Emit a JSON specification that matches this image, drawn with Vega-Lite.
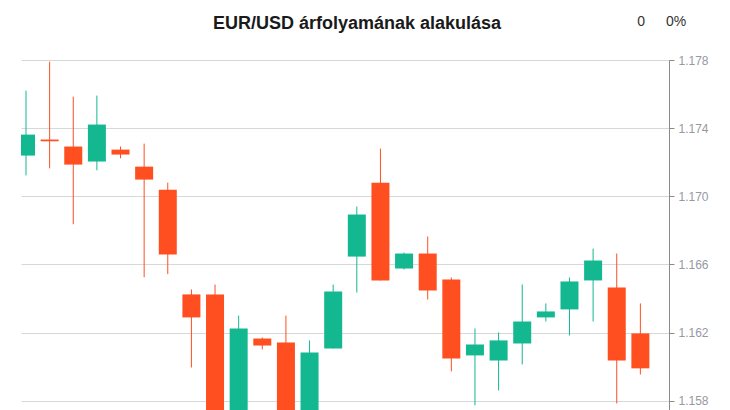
{
  "$schema": "https://vega.github.io/schema/vega-lite/v6.json",
  "autosize": {"type": "none"},
  "padding": {"left": 21, "top": 60, "right": 61, "bottom": 0},
  "width": 648,
  "height": 477,
  "background": "white",
  "title": {
    "text": "EUR/USD árfolyamának alakulása",
    "anchor": "middle",
    "frame": "group",
    "dx": 12,
    "offset": -32,
    "baseline": "alphabetic",
    "font": "Liberation Sans",
    "fontSize": 18,
    "fontWeight": "bold",
    "color": "#1a1a1a"
  },
  "config": {
    "view": {"stroke": null},
    "font": "Liberation Sans"
  },
  "datasets": {
    "candles": [
      {"i": 0, "open": 1.17239, "high": 1.1762, "low": 1.17123, "close": 1.17362},
      {"i": 1, "open": 1.17333, "high": 1.1779, "low": 1.17164, "close": 1.17323},
      {"i": 2, "open": 1.17292, "high": 1.17585, "low": 1.16836, "close": 1.17186},
      {"i": 3, "open": 1.17204, "high": 1.17591, "low": 1.17153, "close": 1.17421},
      {"i": 4, "open": 1.17274, "high": 1.17292, "low": 1.17223, "close": 1.17245},
      {"i": 5, "open": 1.17174, "high": 1.17309, "low": 1.16525, "close": 1.17098},
      {"i": 6, "open": 1.17039, "high": 1.1708, "low": 1.16543, "close": 1.16658},
      {"i": 7, "open": 1.16424, "high": 1.16453, "low": 1.15995, "close": 1.16289},
      {"i": 8, "open": 1.16424, "high": 1.16482, "low": 1.1553, "close": 1.1557},
      {"i": 9, "open": 1.1554, "high": 1.163, "low": 1.155, "close": 1.16224},
      {"i": 10, "open": 1.16165, "high": 1.16171, "low": 1.16101, "close": 1.16124},
      {"i": 11, "open": 1.16142, "high": 1.163, "low": 1.1558, "close": 1.1563},
      {"i": 12, "open": 1.1566, "high": 1.16154, "low": 1.1562, "close": 1.16083},
      {"i": 13, "open": 1.16107, "high": 1.16482, "low": 1.16107, "close": 1.16441},
      {"i": 14, "open": 1.16646, "high": 1.1694, "low": 1.16435, "close": 1.16893},
      {"i": 15, "open": 1.1708, "high": 1.1728, "low": 1.16506, "close": 1.16506},
      {"i": 16, "open": 1.16576, "high": 1.1667, "low": 1.1657, "close": 1.16664},
      {"i": 17, "open": 1.16664, "high": 1.16764, "low": 1.16394, "close": 1.16447},
      {"i": 18, "open": 1.16511, "high": 1.16523, "low": 1.15972, "close": 1.16048},
      {"i": 19, "open": 1.16066, "high": 1.16224, "low": 1.15773, "close": 1.1613},
      {"i": 20, "open": 1.16036, "high": 1.16201, "low": 1.1586, "close": 1.16154},
      {"i": 21, "open": 1.16136, "high": 1.16482, "low": 1.16013, "close": 1.16265},
      {"i": 22, "open": 1.16289, "high": 1.16371, "low": 1.16265, "close": 1.16324},
      {"i": 23, "open": 1.16336, "high": 1.16523, "low": 1.16183, "close": 1.165},
      {"i": 24, "open": 1.16506, "high": 1.16693, "low": 1.16265, "close": 1.16623},
      {"i": 25, "open": 1.16465, "high": 1.16664, "low": 1.15784, "close": 1.16036},
      {"i": 26, "open": 1.16195, "high": 1.16371, "low": 1.15954, "close": 1.1599}
    ],
    "stats": [{"change": "0", "pct": "0%"}]
  },
  "layer": [
    {
      "data": {"name": "candles"},
      "mark": {"type": "rule", "strokeWidth": 1, "clip": true},
      "encoding": {
        "x": {
          "field": "i",
          "type": "quantitative",
          "scale": {"domain": [0, 27], "nice": false, "zero": false},
          "axis": null
        },
        "y": {
          "field": "low",
          "type": "quantitative",
          "scale": {"domain": [1.15, 1.178], "nice": false, "zero": false},
          "axis": {
            "orient": "right",
            "title": null,
            "values": [1.158, 1.162, 1.166, 1.17, 1.174, 1.178],
            "format": ".3f",
            "grid": true,
            "gridColor": "#d6d9dc",
            "gridWidth": 1,
            "domainColor": "#8a8a8a",
            "domainWidth": 1,
            "tickColor": "#8a8a8a",
            "tickSize": 5,
            "labelPadding": 4,
            "labelColor": "#959aa2",
            "labelFont": "Liberation Sans",
            "labelFontSize": 12
          }
        },
        "y2": {"field": "high"},
        "color": {
          "condition": {"test": "datum.open < datum.close", "value": "#13b891"},
          "value": "#ff4e20"
        }
      }
    },
    {
      "data": {"name": "candles"},
      "mark": {"type": "bar", "size": 18, "clip": true},
      "encoding": {
        "x": {"field": "i", "type": "quantitative"},
        "y": {"field": "open", "type": "quantitative"},
        "y2": {"field": "close"},
        "color": {
          "condition": {"test": "datum.open < datum.close", "value": "#13b891"},
          "value": "#ff4e20"
        }
      }
    },
    {
      "data": {"name": "stats"},
      "mark": {"type": "text", "align": "right", "baseline": "alphabetic", "dx": -19, "fontSize": 14, "font": "Liberation Sans", "fill": "#333333"},
      "encoding": {
        "x": {"datum": 27, "type": "quantitative"},
        "y": {"datum": 1.17998, "type": "quantitative"},
        "text": {"field": "change", "type": "nominal"}
      }
    },
    {
      "data": {"name": "stats"},
      "mark": {"type": "text", "align": "left", "baseline": "alphabetic", "dx": 2, "fontSize": 14, "font": "Liberation Sans", "fill": "#333333"},
      "encoding": {
        "x": {"datum": 27, "type": "quantitative"},
        "y": {"datum": 1.17998, "type": "quantitative"},
        "text": {"field": "pct", "type": "nominal"}
      }
    }
  ]
}
